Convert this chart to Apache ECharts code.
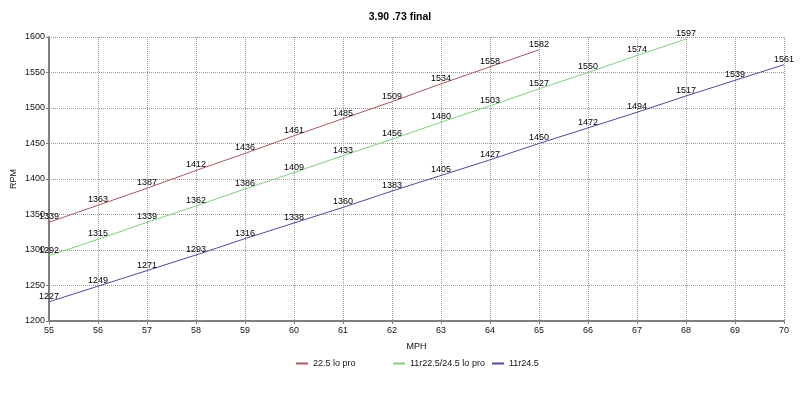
<!DOCTYPE html>
<html>
<head>
<meta charset="utf-8">
<script src="https://cdn.jsdelivr.net/npm/echarts@6/dist/echarts.min.js"></script>
<style>html,body{margin:0;padding:0;background:#fff;}#c{width:800px;height:395px;}</style>
</head>
<body>
<div id="c"></div>
<script>
const mph = [55,56,57,58,59,60,61,62,63,64,65,66,67,68,69,70];
const loPro225 = [1339,1363,1387,1412,1436,1461,1485,1509,1534,1558,1582];
const r225_245 = [1292,1315,1339,1362,1386,1409,1433,1456,1480,1503,1527,1550,1574,1597];
const r245 = [1227,1249,1271,1293,1316,1338,1360,1383,1405,1427,1450,1472,1494,1517,1539,1561];
const seriesNames = ['22.5 lo pro','11r22.5/24.5 lo pro','11r24.5'];
const colors = ['#a85a5e','#7fd07f','#4b4b9c'];
const legendLeft = [291,388,487];

function pairs(vals){ return vals.map((v,i)=>[mph[i],v]); }
const font = 'Liberation Sans, Arial, sans-serif';
const chart = echarts.init(document.getElementById('c'));
chart.setOption({
  animation:false,
  backgroundColor:'#fff',
  textStyle:{fontFamily:font},
  title:{text:'3.90 .73 final',left:'center',top:7,textStyle:{fontSize:10.5,fontWeight:'bold',color:'#000',fontFamily:font}},
  grid:{left:49,right:16,top:37,bottom:74,containLabel:false,outerBoundsMode:'none'},
  xAxis:{type:'value',min:55,max:70,interval:1,name:'MPH',nameLocation:'middle',nameGap:21,nameMoveOverlap:false,
    nameTextStyle:{fontSize:9,color:'#111',fontFamily:font},
    axisLine:{lineStyle:{color:'#808080',width:2}},
    axisTick:{show:true,length:3,lineStyle:{color:'#808080'}},
    axisLabel:{fontSize:9,color:'#111',margin:5,fontFamily:font},
    splitLine:{show:true,lineStyle:{type:'dotted',color:'#999'}}},
  yAxis:{type:'value',min:1200,max:1600,interval:50,name:'RPM',nameLocation:'middle',nameGap:31,nameMoveOverlap:false,
    nameTextStyle:{fontSize:9,color:'#111',fontFamily:font},
    axisLine:{show:true,lineStyle:{color:'#808080',width:2}},
    axisTick:{show:true,length:3,lineStyle:{color:'#808080'}},
    axisLabel:{fontSize:9,color:'#111',margin:4,fontFamily:font,formatter:v=>String(v)},
    splitLine:{show:true,lineStyle:{type:'dotted',color:'#999'}}},
  legend:seriesNames.map((n,i)=>({bottom:22,left:legendLeft[i],itemWidth:12,itemHeight:2,icon:'rect',
    textStyle:{fontSize:9,color:'#111',fontFamily:font},data:[n]})),
  series:[loPro225,r225_245,r245].map((vals,i)=>({
    name:seriesNames[i],type:'line',data:pairs(vals),showSymbol:true,symbol:'circle',symbolSize:0.1,
    lineStyle:{color:colors[i],width:1},itemStyle:{color:colors[i]},
    label:{show:true,position:'top',distance:1,fontSize:9,color:'#000',fontFamily:font},
    labelLayout:{hideOverlap:false}
  }))
});
</script>
</body>
</html>
